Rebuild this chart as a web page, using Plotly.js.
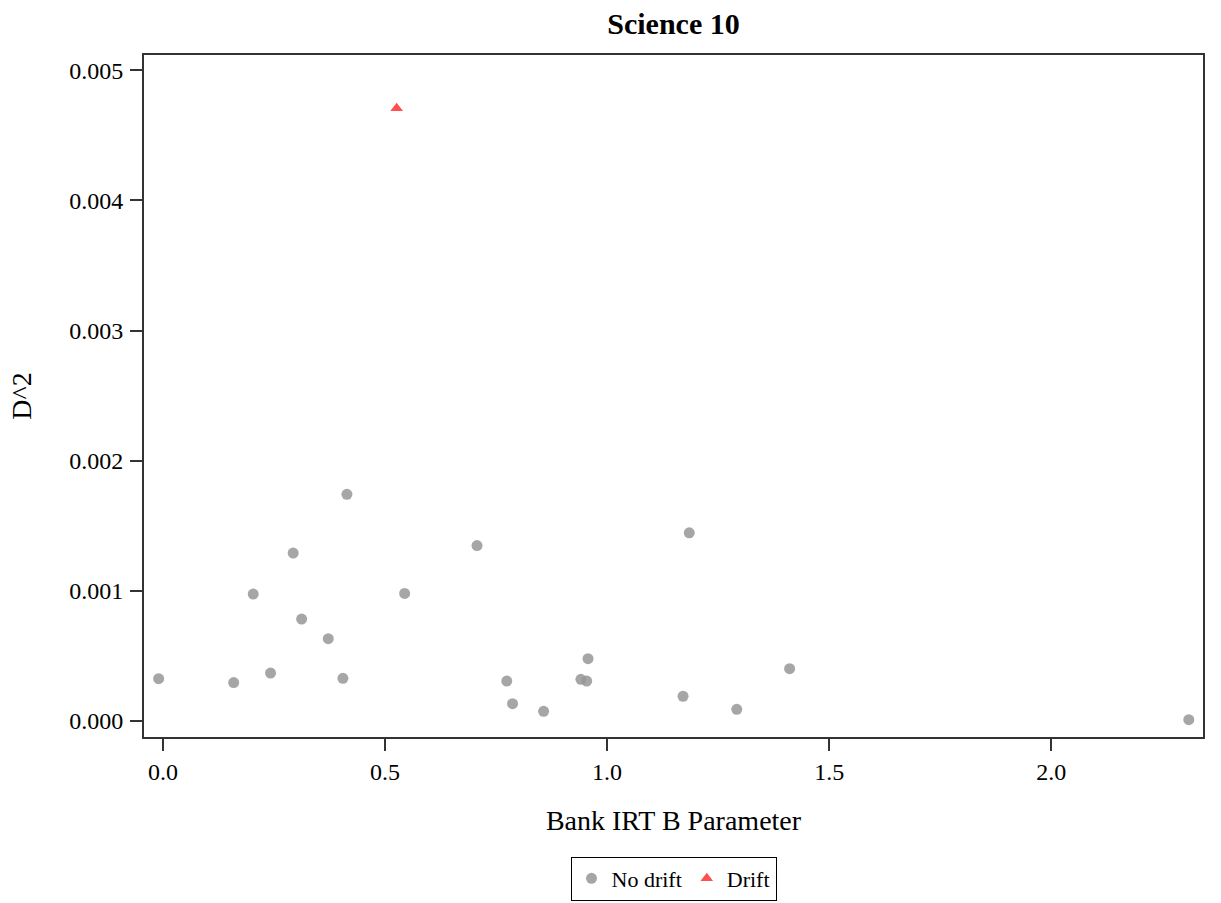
<!DOCTYPE html>
<html>
<head>
<meta charset="utf-8">
<script src="https://cdn.plot.ly/plotly-3.0.1.min.js"></script>
<style>html,body{margin:0;padding:0;background:#fff;}#chart{width:1221px;height:903px;}</style>
</head>
<body>
<div id="chart"></div>
<script>
// No drift items
const noDriftB = [-0.01, 0.159, 0.242, 0.203, 0.293, 0.312, 0.372, 0.414, 0.405, 0.544, 0.707, 0.774, 0.787, 0.857, 0.941, 0.954, 0.957, 1.185, 1.171, 1.292, 1.411, 2.31];
const noDriftD2 = [0.000325, 0.000295, 0.000368, 0.000975, 0.00129, 0.000783, 0.000632, 0.001742, 0.000328, 0.00098, 0.001348, 0.000307, 0.000133, 0.000074, 0.00032, 0.000307, 0.000479, 0.001446, 0.00019, 0.00009, 0.000402, 0.00001];
// Drift items
const driftB = [0.526];
const driftD2 = [0.004708];

const serif = '"Liberation Serif", "Times New Roman", serif';

const traces = [
  {
    type: 'scatter', mode: 'markers', name: 'No drift',
    x: noDriftB, y: noDriftD2,
    marker: {symbol: 'circle', size: 11, color: 'rgba(150,150,150,0.85)', line: {width: 0}}
  },
  {
    type: 'scatter', mode: 'markers', name: 'Drift',
    x: driftB, y: driftD2,
    marker: {symbol: 'triangle-up', size: 11, color: 'rgba(255,60,60,0.9)', line: {width: 0}}
  }
];

const layout = {
  width: 1221, height: 903,
  margin: {l: 144, r: 18, t: 55, b: 166, autoexpand: false},
  paper_bgcolor: '#fff', plot_bgcolor: '#fff',
  font: {family: serif, color: '#000', size: 24},
  title: {text: '<b>Science 10</b>', font: {family: serif, size: 30, color: '#000'},
          x: 0.5, xref: 'paper', y: 1 - 23/903, yref: 'container', yanchor: 'middle'},
  xaxis: {
    range: [-0.043, 2.342], tick0: 0, dtick: 0.5, tickformat: '.1f',
    showgrid: false, zeroline: false,
    showline: true, mirror: true, linecolor: '#333', linewidth: 2,
    ticks: 'outside', ticklen: 12, tickwidth: 2, tickcolor: '#333',
    tickfont: {family: serif, size: 24, color: '#000'},
    title: {text: 'Bank IRT B Parameter', font: {family: serif, size: 28, color: '#000'}, standoff: 27}
  },
  yaxis: {
    range: [-0.000123, 0.005117], tick0: 0, dtick: 0.001, tickformat: '.3f',
    showgrid: false, zeroline: false,
    showline: true, mirror: true, linecolor: '#333', linewidth: 2,
    ticks: 'outside', ticklen: 12, tickwidth: 2, tickcolor: '#333',
    ticklabelstandoff: 2,
    tickfont: {family: serif, size: 24, color: '#000'},
    title: {text: 'D^2', font: {family: serif, size: 28, color: '#000'}, standoff: 29}
  },
  showlegend: true,
  legend: {
    orientation: 'h', x: 0.5, xanchor: 'center', xref: 'paper',
    y: 1 - 878.5/903, yanchor: 'middle', yref: 'container',
    bordercolor: '#000', borderwidth: 1, bgcolor: '#fff',
    font: {family: serif, size: 22, color: '#000'},
    itemwidth: 30, tracegroupgap: 0
  }
};

Plotly.newPlot('chart', traces, layout, {displayModeBar: false, staticPlot: true});
</script>
</body>
</html>
